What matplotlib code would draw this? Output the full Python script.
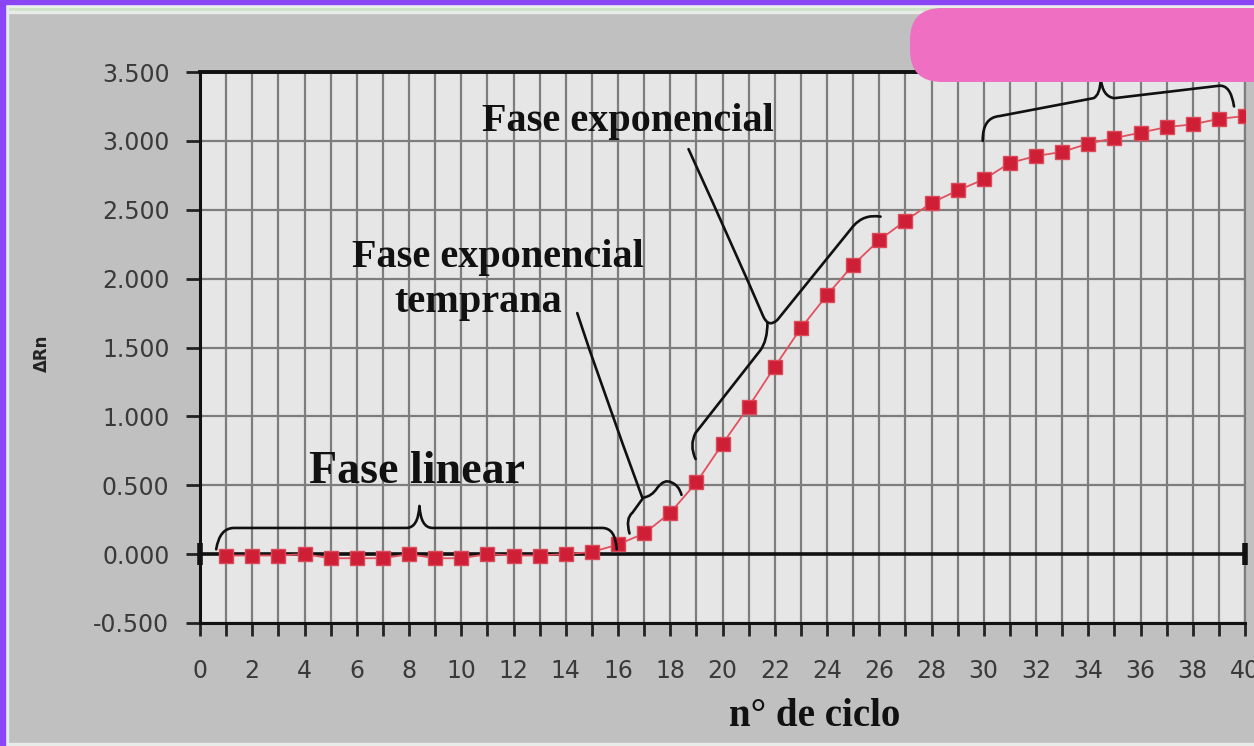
import matplotlib
matplotlib.use("Agg")
import matplotlib.pyplot as plt
from matplotlib.path import Path
from matplotlib.patches import PathPatch, Rectangle, FancyBboxPatch
from matplotlib.transforms import IdentityTransform
from matplotlib.ticker import MultipleLocator, FuncFormatter

# ---- data ----
cycles = list(range(1, 41))
delta_rn = [-0.01, -0.01, -0.01, 0.0, -0.03, -0.03, -0.03, 0.0, -0.03, -0.03,
            0.0, -0.01, -0.01, 0.0, 0.015, 0.07, 0.15, 0.30, 0.52, 0.80,
            1.07, 1.36, 1.64, 1.88, 2.10, 2.28, 2.42, 2.55, 2.64, 2.72,
            2.84, 2.89, 2.92, 2.98, 3.02, 3.06, 3.10, 3.12, 3.16, 3.18]
x_ticks = list(range(0, 41, 2))
y_ticks = [-0.5, 0.0, 0.5, 1.0, 1.5, 2.0, 2.5, 3.0, 3.5]
x_label = "n° de ciclo"
y_label = "ΔRn"

W, H = 1254, 746
fig = plt.figure(figsize=(W / 100, H / 100), dpi=100)
fig.patch.set_facecolor("#c0c0c0")

ax = fig.add_axes([200 / W, 1 - 623 / H, (1245 - 200) / W, (623 - 72) / H])
ax.set_facecolor("#e6e6e6")
ax.set_xlim(0, 40)
ax.set_ylim(-0.5, 3.5)

ax.xaxis.set_minor_locator(MultipleLocator(1))
ax.set_xticks(x_ticks)
ax.set_yticks(y_ticks)
ax.yaxis.set_major_formatter(FuncFormatter(lambda v, p: f"{v:.3f}"))
ax.grid(True, which="both", axis="x", color="#7d7d7d", lw=1.6, zorder=0)
ax.grid(True, which="major", axis="y", color="#7d7d7d", lw=1.6, zorder=0)
ax.set_axisbelow(True)

ax.tick_params(axis="x", which="both", direction="out", length=9, width=2,
               color="#222222", pad=17, labelsize=17, labelcolor="#3a3a3a")
ax.tick_params(axis="y", which="major", direction="out", length=10, width=2,
               color="#222222", pad=12, labelsize=17, labelcolor="#3a3a3a")
for lab in ax.get_xticklabels() + ax.get_yticklabels():
    lab.set_family("DejaVu Sans")

for s in ["left", "bottom", "top"]:
    ax.spines[s].set_color("#111111")
    ax.spines[s].set_linewidth(2.2)
ax.spines["top"].set_linewidth(2.8)
ax.spines["right"].set_color("#7d7d7d")
ax.spines["right"].set_linewidth(1.6)

# baseline at zero
ax.axhline(0, color="#111111", lw=2.6, zorder=2)
ax.plot([0, 40], [0, 0], ls="none", marker="|", ms=16, mew=4, color="#111111",
        zorder=3, clip_on=False)

# data series
ax.plot(cycles, delta_rn, color="#e2505e", lw=1.3, marker="s", ms=9.5,
        mfc="#cf1f36", mec="#dc4a5a", mew=1.0, zorder=4)

# ---- annotation braces ----
M, L, C = Path.MOVETO, Path.LINETO, Path.CURVE3
def brace(verts_codes):
    verts = [v for v, c in verts_codes]
    codes = [c for v, c in verts_codes]
    ax.add_patch(PathPatch(Path(verts, codes), fill=False, ec="#111111",
                           lw=1.9, zorder=5, clip_on=False, capstyle="round",
                           joinstyle="round"))

# Fase linear
brace([((0.62, 0.035), M), ((0.75, 0.19), C), ((1.3, 0.19), C),
       ((7.9, 0.19), L), ((8.35, 0.19), C), ((8.4, 0.35), C),
       ((8.45, 0.19), C), ((8.9, 0.19), C), ((15.4, 0.19), L),
       ((15.9, 0.19), C), ((15.95, 0.035), C)])
# Fase exponencial temprana
brace([((16.44, 0.15), M), ((16.28, 0.26), C), ((16.55, 0.30), C),
       ((16.97, 0.41), L), ((17.3, 0.42), C), ((17.5, 0.48), C),
       ((17.78, 0.55), C), ((18.05, 0.52), C), ((18.33, 0.50), C),
       ((18.43, 0.43), C)])
brace([((14.44, 1.75), M), ((15.3, 1.25), C), ((16.93, 0.41), C)])
# Fase exponencial
brace([((18.97, 0.69), M), ((18.72, 0.79), C), ((18.97, 0.88), C),
       ((21.45, 1.48), L), ((21.72, 1.55), C), ((21.72, 1.68), C)])
brace([((18.70, 2.94), M), ((20.6, 2.15), C), ((21.55, 1.73), C),
       ((21.75, 1.64), C), ((22.1, 1.70), C),
       ((25.0, 2.38), L), ((25.4, 2.47), C), ((26.05, 2.45), C)])
# Fase plateau (top)
brace([((29.96, 3.00), M), ((29.95, 3.17), C), ((30.6, 3.18), C),
       ((34.2, 3.31), L), ((34.45, 3.33), C), ((34.48, 3.45), C),
       ((34.55, 3.32), C), ((35.0, 3.31), C), ((39.0, 3.40), L),
       ((39.45, 3.41), C), ((39.58, 3.25), C)])

# ---- texts ----
serif = dict(family="Liberation Serif", weight="bold", color="#111111")
def ftext(px, py, s, size, **kw):
    fig.text(px / W, 1 - py / H, s, ha="center", va="center", fontsize=size,
             zorder=6, **serif, **kw)

ftext(628, 121, "Fase exponencial", 29)
ftext(498, 257, "Fase exponencial", 29)
ftext(478, 302, "temprana", 29)
ftext(417, 472, "Fase linear", 33)
ftext(815, 717, x_label, 28)
fig.text(42 / W, 1 - 353 / H, y_label, rotation=90, ha="center", va="center",
         fontsize=12, weight="bold", color="#222222", family="DejaVu Sans")

# ---- frame / overlay decorations ----
idt = IdentityTransform()
fig.add_artist(Rectangle((0, 0), 5, H, transform=idt, color="#8a45f5", zorder=20))
fig.add_artist(Rectangle((0, H - 4), W, 4, transform=idt, color="#8a45f5", zorder=20))
fig.add_artist(Rectangle((5, H - 8), W, 4, transform=idt, color="#eef0f0", zorder=19))
fig.add_artist(Rectangle((5, H - 11), W, 3, transform=idt, color="#cfe3c8", zorder=19))
fig.add_artist(Rectangle((5, H - 13), W, 2, transform=idt, color="#e8ece8", zorder=19))
fig.add_artist(Rectangle((5, 0), 3, H - 8, transform=idt, color="#e8ece8", zorder=19))
fig.add_artist(Rectangle((5, 0), W, 3, transform=idt, color="#e8ece8", zorder=19))
fig.add_artist(FancyBboxPatch((910, H - 82), 420, 74,
                              boxstyle="round,pad=0,rounding_size=32",
                              transform=idt, fc="#ef6fc3", ec="none", zorder=21))

fig.savefig("out.png", dpi=100, facecolor=fig.get_facecolor())
